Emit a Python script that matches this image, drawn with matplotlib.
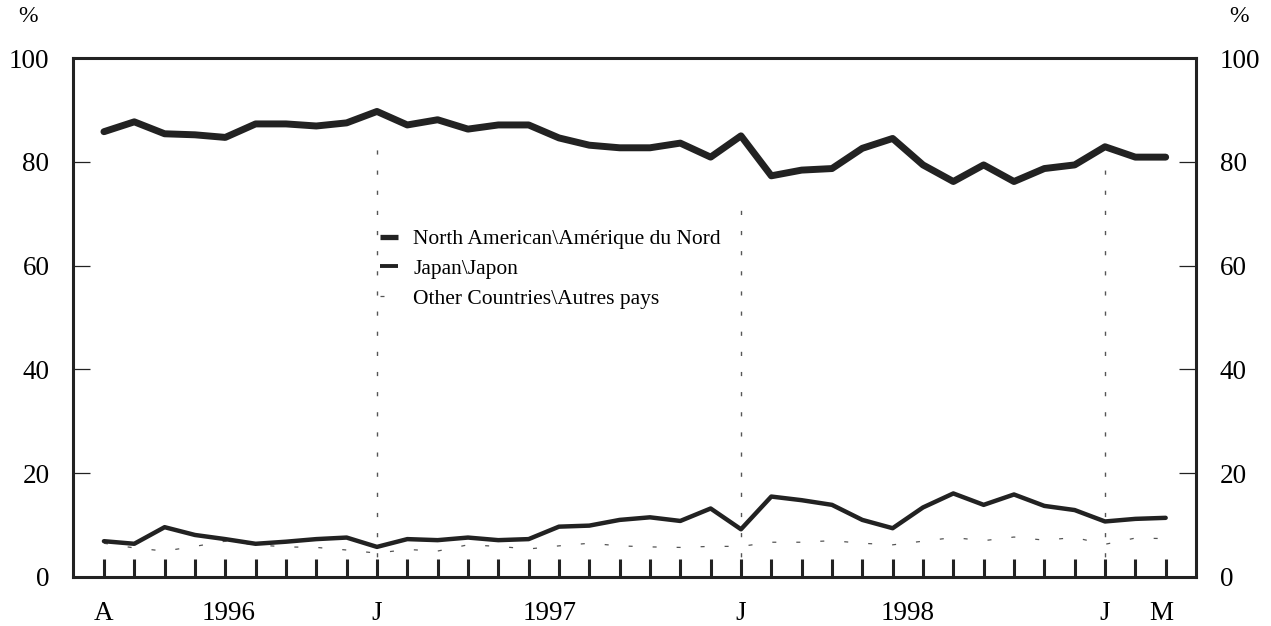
import matplotlib
matplotlib.use("Agg")
import matplotlib.pyplot as plt
from matplotlib.lines import Line2D
import matplotlib.transforms as mtransforms
import numpy as np

# monthly shares, Apr 1995 .. Mar 1998
north_america = [85.8, 87.7, 85.4, 85.2, 84.7, 87.3, 87.3, 86.9, 87.5, 89.7,
                 87.1, 88.1, 86.3, 87.1, 87.1, 84.6, 83.2, 82.7, 82.7, 83.6,
                 80.9, 85.0, 77.3, 78.4, 78.7, 82.6, 84.5, 79.4, 76.2, 79.4,
                 76.2, 78.7, 79.4, 82.9, 80.9, 80.9]
japan = [6.9, 6.4, 9.6, 8.1, 7.3, 6.4, 6.8, 7.3, 7.6, 5.8,
         7.3, 7.1, 7.6, 7.1, 7.3, 9.7, 9.9, 11.0, 11.5, 10.8,
         13.2, 9.2, 15.5, 14.8, 13.9, 11.0, 9.4, 13.4, 16.1, 13.9,
         15.9, 13.7, 12.9, 10.7, 11.2, 11.4]
other = [6.5, 5.6, 5.0, 5.9, 6.9, 6.2, 5.8, 5.7, 5.2, 4.6,
         5.3, 5.0, 6.2, 5.9, 5.4, 6.0, 6.5, 6.0, 5.8, 5.7,
         5.9, 5.9, 6.7, 6.7, 7.0, 6.5, 6.2, 6.9, 7.6, 7.0,
         7.7, 7.1, 7.6, 6.3, 7.5, 7.4]

labels = ["North American\\Amérique du Nord", "Japan\\Japon",
          "Other Countries\\Autres pays"]

# January markers (month index) and how high the dotted guide reaches
jan_months = [9, 21, 33]
jan_tops = [84.8, 73.2, 78.4]

# axis text under the month ticks
x_label_pos = [0, 4.1, 9, 14.7, 21, 26.5, 33, 34.85]
x_label_txt = ["A", "1996", "J", "1997", "J", "1998", "J", "M"]
y_ticks = [0, 20, 40, 60, 80, 100]

plt.rcParams["font.family"] = ["Liberation Serif", "DejaVu Serif"]
ink = "#222222"
fs = 19.5

fig = plt.figure(figsize=(12.71, 6.26), dpi=100)
ax = fig.add_axes([73 / 1271, 49 / 626, 1123 / 1271, 519 / 626])

months = np.arange(len(north_america))

ax.vlines(jan_months, 0, jan_tops, colors="#555555", linewidth=1.0,
          linestyles=[(0, (3.0, 11.5))], zorder=1)
ax.plot(months, other, color="#555555", lw=0.9, ls=(0, (3.2, 16)), zorder=2)
ax.plot(months, japan, color=ink, lw=3.2, solid_capstyle="round",
        solid_joinstyle="round", zorder=3)
ax.plot(months, north_america, color=ink, lw=5.0, solid_capstyle="round",
        solid_joinstyle="round", zorder=4)

ax.set_xlim(-1.02, 36)
ax.set_ylim(0, 100)

for s in ax.spines.values():
    s.set_linewidth(2.2)
    s.set_color(ink)

ax.set_xticks(months)
ax.set_xticklabels([])
ax.tick_params(axis="x", direction="in", length=13, width=2.2, color=ink)

# month / year text below the axis
below = mtransforms.offset_copy(ax.get_xaxis_transform(), fig=fig,
                                x=0, y=-36, units="dots")
for xp, txt in zip(x_label_pos, x_label_txt):
    ax.text(xp, 0, txt, transform=below, ha="center", va="center",
            fontsize=fs)

ax.set_yticks(y_ticks)
ax.tick_params(axis="y", direction="in", length=12, width=0.9, color=ink,
               labelsize=fs, pad=17, right=True, labelright=True)

fig.text(28 / 1271, 1 - 17 / 626, "%", fontsize=17, ha="center", va="center")
fig.text(1239 / 1271, 1 - 17 / 626, "%", fontsize=17, ha="center", va="center")

handles = [
    Line2D([], [], color=ink, lw=3.8, solid_capstyle="butt"),
    Line2D([], [], color=ink, lw=2.8, solid_capstyle="butt"),
    Line2D([], [], color="#555555", lw=0.9, ls=(0, (3.2, 16))),
]
ax.legend(handles, labels, loc="upper left", frameon=False,
          bbox_to_anchor=(380 / 1271, 1 - 229 / 626),
          bbox_transform=fig.transFigure, fontsize=15.5, handlelength=0.85,
          handletextpad=0.7, labelspacing=0.45, borderpad=0,
          borderaxespad=0)

fig.savefig("out.png", dpi=100)
